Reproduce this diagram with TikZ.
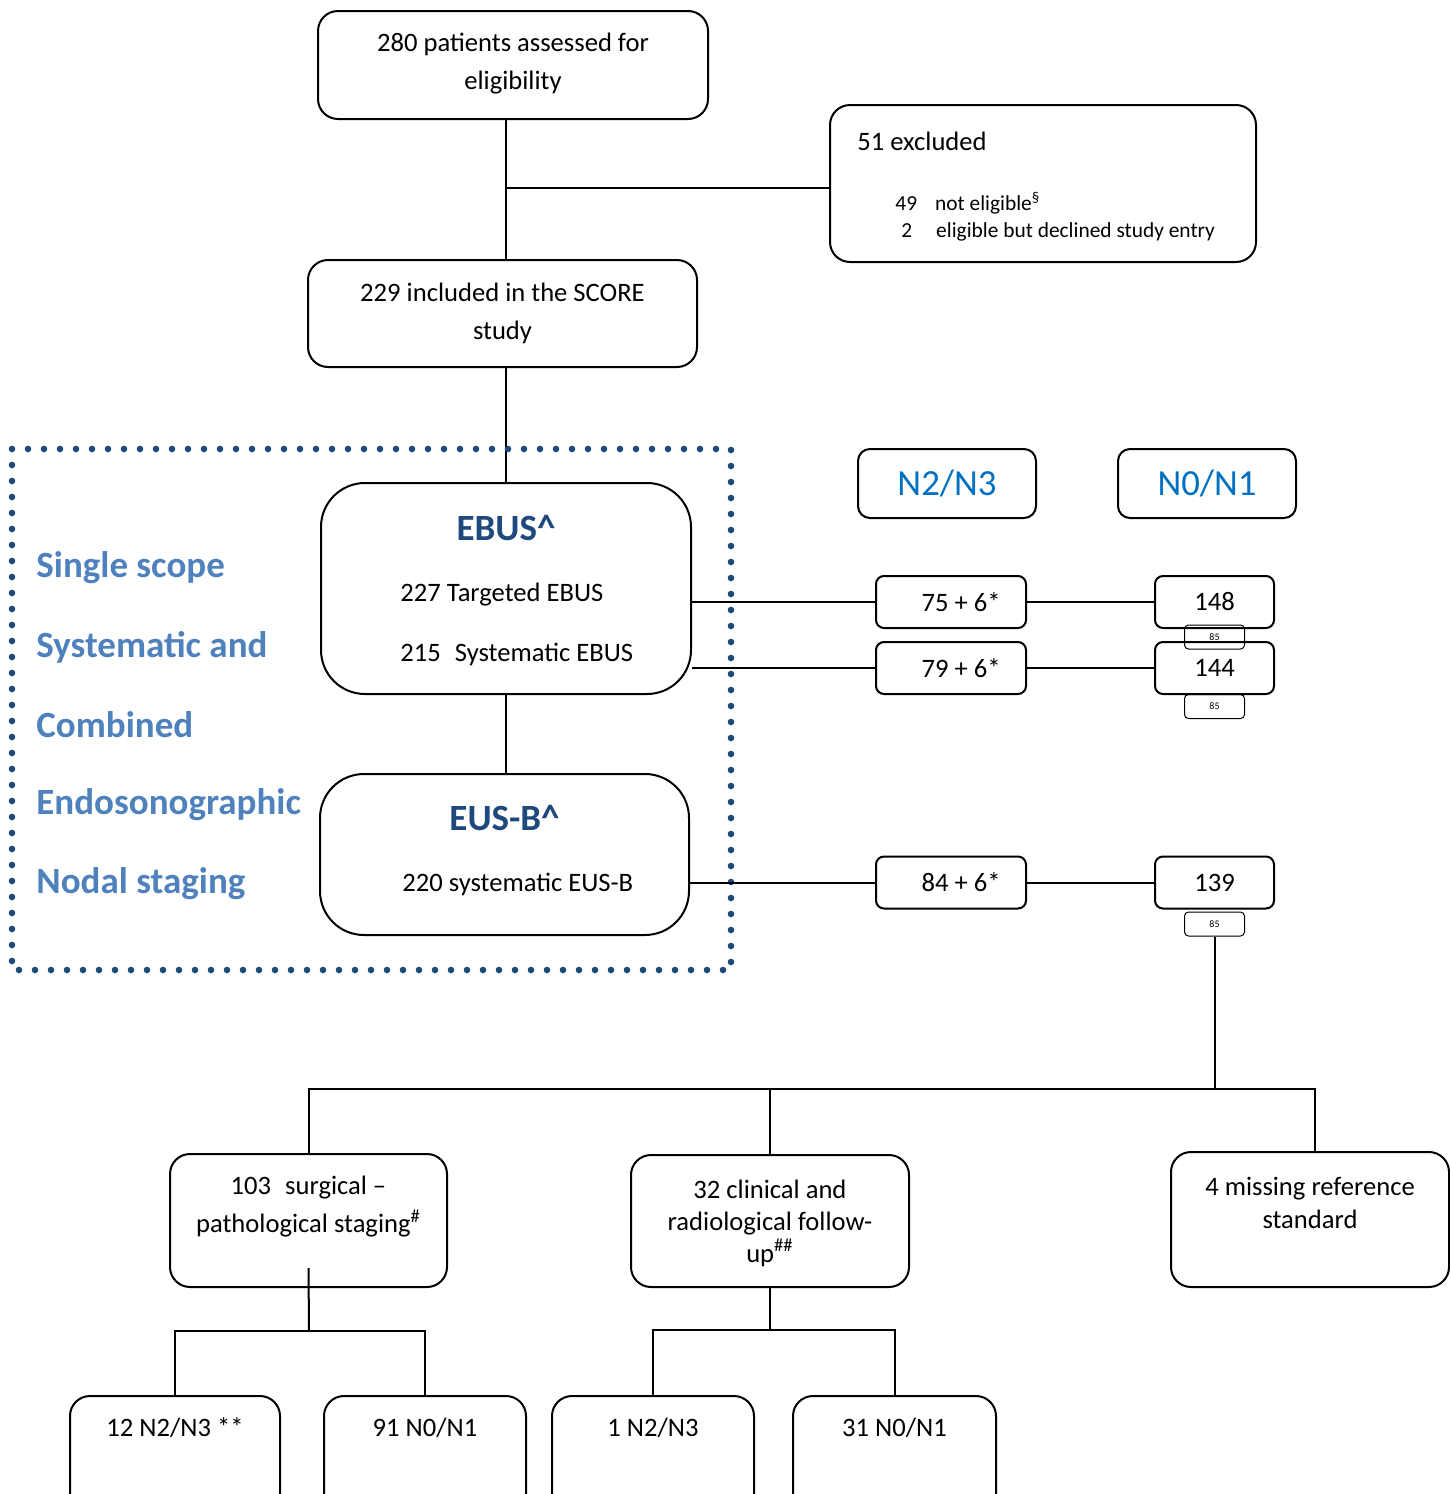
\documentclass[tikz,border=0pt]{standalone}
\usepackage{fontspec}
\setmainfont{Carlito}
\usetikzlibrary{positioning, calc}
\definecolor{framedark}{RGB}{31,73,125}
\definecolor{sidelight}{RGB}{79,129,189}
\definecolor{headblue}{RGB}{0,112,192}
\tikzset{
  base/.style={draw=black, line width=1pt, align=center,
               font=\fontsize{13.3}{19}\selectfont},
  flow/.style  = {base, rounded corners=10pt},
  big/.style   = {base, rounded corners=22pt},
  cell/.style  = {base, rounded corners=4pt, minimum width=75pt, minimum height=26pt},
  tag/.style   = {draw=black, line width=0.5pt, rounded corners=2pt, fill=white,
                  minimum width=30pt, minimum height=12pt, inner sep=0pt,
                  font=\fontsize{5}{6}\selectfont},
  head/.style  = {base, rounded corners=6pt, minimum width=89pt, minimum height=34.5pt,
                  text=headblue, font=\fontsize{18.4}{22}\selectfont},
  txt/.style   = {align=center, inner sep=0pt, font=\fontsize{13.3}{19}\selectfont},
  title/.style = {inner sep=0pt, text=framedark, font=\fontsize{18.5}{22}\selectfont\bfseries},
  side/.style  = {anchor=west, inner sep=0pt, text=sidelight, font=\fontsize{18.5}{22}\selectfont\bfseries},
  link/.style  = {line width=1pt, color=black},
  dots/.style  = {line width=3.3pt, color=framedark, line cap=round, dash pattern=on 0pt off 8pt},
}
\begin{document}
\begin{tikzpicture}[x=0.5pt, y=-0.5pt]
  \useasboundingbox (0,0) rectangle (1450,1494);
  \clip (0,0) rectangle (1450,1494);

  % enrolment
  \node[flow, minimum width=195pt, minimum height=54pt] (assess) at (513,65) {};
  \node[txt] (assesst) at (513,64) {280 patients assessed for\\eligibility};
  \node[flow, minimum width=194.5pt, minimum height=53.5pt] (incl) at (502.5,313.5) {};
  \node[txt] (inclt) at (502.5,313) {229 included in the SCORE\\study};
  \node[flow, minimum width=213pt, minimum height=78.5pt] (excl) at (1043,183.5) {};
  \node[txt, anchor=west] (exclt) at (857,141) {51 excluded};
  \node[txt, anchor=west, align=left, font=\fontsize{10.7}{13.5}\selectfont] (exclsub) at (895,217)
    {49\hspace{9pt}not eligible\textsuperscript{§}\\
     \hspace{3pt}2\hspace{12pt}eligible but declined study entry};

  \coordinate (branch) at (506,188);
  \draw[link] (assess.south -| branch) -- (incl.north -| branch);
  \draw[link] (branch) -- (branch -| excl.west);

  % index tests
  \node[big, minimum width=185pt, minimum height=105.5pt] (ebus) at (506,588.5) {};
  \node[title] (ebust) at (506,528) {EBUS\^{}};
  \node[txt, anchor=west] (ebusa) at (400,595) {227 Targeted EBUS};
  \node[txt, anchor=west] (ebusb) at (400,654) {215\hspace{4pt} Systematic EBUS};
  \node[big, minimum width=184.5pt, minimum height=80.5pt] (eus) at (504.5,854.5) {};
  \node[title] (eust) at (504.5,818) {EUS-B\^{}};
  \node[txt, anchor=west] (eusa) at (402,884) {220 systematic EUS-B};

  \draw[link] (incl.south -| ebus.north) -- (ebus.north);
  \draw[link] (ebus.south) -- (ebus.south |- eus.north);

  \draw[dots] (12,449) rectangle (731,970);
  \node[side] (s1) at (36,568) {Single scope};
  \node[side] (s2) at (36,647) {Systematic and};
  \node[side] (s3) at (36,725) {Combined};
  \node[side] (s4) at (36,805) {Endosonographic};
  \node[side] (s5) at (36,884) {Nodal staging};

  % results
  \node[head] (hpos) at (947,483.5) {N2/N3};
  \node[head] (hneg) at (1207,483.5) {N0/N1};

  \node[tag] (t148) at (1214.5,637) {85};
  \node[cell] (p1) at (951,602) {\hspace*{10pt}75 + 6*};
  \node[cell, minimum width=59.5pt] (n1) at (1214.5,602) {148};
  \node[tag] (t144) at (1214.5,706.5) {85};
  \node[cell] (p2) at (951,668) {\hspace*{10pt}79 + 6*};
  \node[cell, minimum width=59.5pt] (n2) at (1214.5,668) {144};
  \node[cell] (p3) at (951,882.5) {\hspace*{10pt}84 + 6*};
  \node[cell, minimum width=59.5pt] (n3) at (1214.5,882.5) {139};
  \node[tag] (t139) at (1214.5,924) {85};

  \draw[link] (p1.west) -- (p1.west -| ebus.east);
  \draw[link] (p1) -- (n1);
  \draw[link] (p2.west) -- (p2.west -| ebus.east);
  \draw[link] (p2) -- (n2);
  \draw[link] (p3.west) -- (p3.west -| eus.east);
  \draw[link] (p3) -- (n3);

  % reference standard
  \node[flow, minimum width=138.5pt, minimum height=66.5pt] (surg) at (308.5,1220.5) {};
  \node[txt] (surgt) at (308.5,1207) {103\hspace{4pt} surgical --\\pathological staging\textsuperscript{\#}};
  \node[flow, minimum width=139pt, minimum height=66pt] (clin) at (770,1221) {};
  \node[txt, font=\fontsize{13.3}{16}\selectfont] (clint) at (770,1223) {32 clinical and\\radiological follow-\\up\textsuperscript{\#\#}};
  \node[flow, minimum width=139pt, minimum height=67.5pt] (miss) at (1310,1219.5) {};
  \node[txt, font=\fontsize{13.3}{16.5}\selectfont] (misst) at (1310,1203) {4 missing reference\\standard};

  \coordinate (bar) at (770,1089);
  \coordinate (missdrop) at (1315,1152);
  \draw[link] (t139.south) -- (t139.south |- bar);
  \draw[link] (surg.north) |- (bar) -| (missdrop);
  \draw[link] (clin.north) -- (clin.north |- bar);

  \node[flow, minimum width=105pt, minimum height=70pt] (r12) at (175,1466) {};
  \node[txt] (r12t) at (175,1428) {12 N2/N3 **};
  \node[flow, minimum width=101pt, minimum height=70pt] (r91) at (425,1466) {};
  \node[txt] (r91t) at (425,1428) {91 N0/N1};
  \node[flow, minimum width=101pt, minimum height=70pt] (r1) at (653,1466) {};
  \node[txt] (r1t) at (653,1428) {1 N2/N3};
  \node[flow, minimum width=101.5pt, minimum height=70pt] (r31) at (894.5,1466) {};
  \node[txt] (r31t) at (894.5,1428) {31 N0/N1};

  \coordinate (sbar) at (309,1331);
  \coordinate (cbar) at (770,1330);
  \draw[link] ($(surg.south)+(0,-20)$) -- (sbar);
  \draw[link] (r12.north) |- (sbar) -| (r91.north);
  \draw[link] (clin.south) -- (cbar);
  \draw[link] (r1.north) |- (cbar) -| (r31.north);
\end{tikzpicture}
\end{document}
